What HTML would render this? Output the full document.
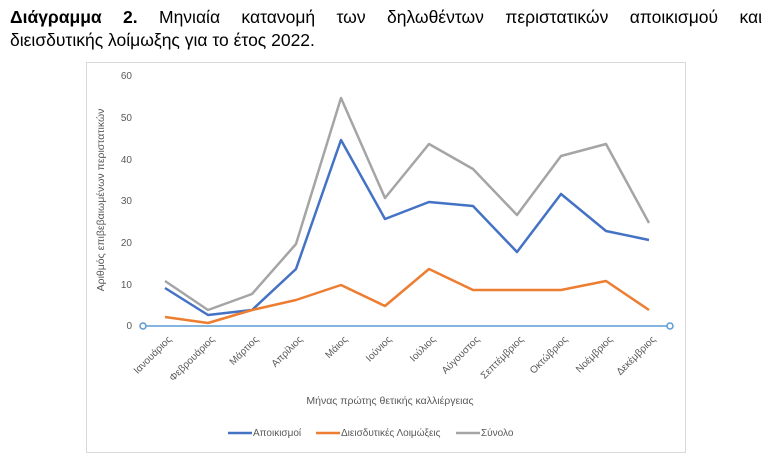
<!DOCTYPE html>
<html><head><meta charset="utf-8"><style>
body{margin:0;width:772px;height:464px;background:#fff;overflow:hidden;font-family:"Liberation Sans","DejaVu Sans",sans-serif}
.t{position:absolute;left:10px;width:752px;font-size:17.5px;line-height:23px;color:#000;top:6px}
.l1{display:block;text-align:justify;text-align-last:justify}
</style></head><body>
<div class="t"><span class="l1"><b>Διάγραμμα 2.</b> Μηνιαία κατανομή των δηλωθέντων περιστατικών αποικισμού και</span>διεισδυτικής λοίμωξης για το έτος 2022.</div>
<svg width="772" height="464" style="position:absolute;left:0;top:0" font-family="Liberation Sans, DejaVu Sans, sans-serif">
<rect x="86.5" y="62.5" width="599" height="390" fill="none" stroke="#d9d9d9"/>
<g font-size="10" fill="#595959" text-anchor="end">
<text x="132" y="329">0</text><text x="132" y="288">10</text><text x="132" y="246">20</text><text x="132" y="204">30</text><text x="132" y="163">40</text><text x="132" y="121">50</text><text x="132" y="79">60</text>
</g>
<text transform="translate(104,200) rotate(-90)" font-size="10.5" fill="#595959" text-anchor="middle">Αριθμός επιβεβαιωμένων περιστατικών</text>
<line x1="143" y1="326" x2="670" y2="326" stroke="#5b9bd5" stroke-width="1.5"/>
<circle cx="143" cy="326" r="3" fill="#fff" stroke="#5b9bd5" stroke-width="1.5"/>
<circle cx="670" cy="326" r="3" fill="#fff" stroke="#5b9bd5" stroke-width="1.5"/>
<g fill="none" stroke-width="2.5" stroke-linejoin="round">
<polyline stroke="#a5a5a5" points="165,281 208,310 252,294 296,244 341,98 385,198 429,144 473,169 517,215 561,156 606,144 649,223"/>
<polyline stroke="#4472c4" points="165,288 208,315 252,310 296,269 341,140 385,219 429,202 473,206 517,252 561,194 606,231 649,240"/>
<polyline stroke="#ed7d31" points="165,317 208,323 252,310 296,300 341,285 385,306 429,269 473,290 517,290 561,290 606,281 649,310"/>
</g>
<g font-size="10" fill="#595959" text-anchor="end">
<text transform="translate(172,340) rotate(-45)">Ιανουάριος</text>
<text transform="translate(215,340) rotate(-45)">Φεβρουάριος</text>
<text transform="translate(259,340) rotate(-45)">Μάρτιος</text>
<text transform="translate(303,340) rotate(-45)">Απρίλιος</text>
<text transform="translate(348,340) rotate(-45)">Μάιος</text>
<text transform="translate(392,340) rotate(-45)">Ιούνιος</text>
<text transform="translate(436,340) rotate(-45)">Ιούλιος</text>
<text transform="translate(480,340) rotate(-45)">Αύγουστος</text>
<text transform="translate(524,340) rotate(-45)">Σεπτέμβριος</text>
<text transform="translate(568,340) rotate(-45)">Οκτώβριος</text>
<text transform="translate(613,340) rotate(-45)">Νοέμβριος</text>
<text transform="translate(656,340) rotate(-45)">Δεκέμβριος</text>
</g>
<text x="390" y="404" font-size="10.5" fill="#595959" text-anchor="middle">Μήνας πρώτης θετικής καλλιέργειας</text>
<g font-size="10" fill="#595959">
<line x1="228" y1="433" x2="252" y2="433" stroke="#4472c4" stroke-width="2.5"/><text x="253" y="436">Αποικισμοί</text>
<line x1="316" y1="433" x2="340" y2="433" stroke="#ed7d31" stroke-width="2.5"/><text x="341" y="436">Διεισδυτικές Λοιμώξεις</text>
<line x1="456" y1="433" x2="480" y2="433" stroke="#a5a5a5" stroke-width="2.5"/><text x="481" y="436">Σύνολο</text>
</g>
</svg>
</body></html>
